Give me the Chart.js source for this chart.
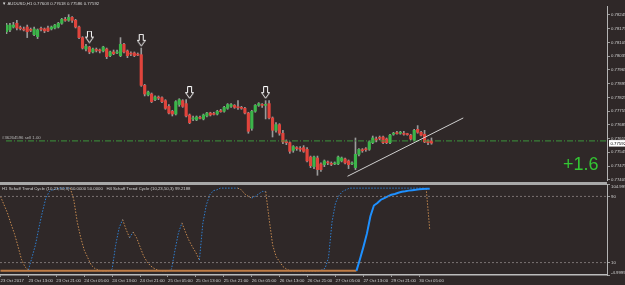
<!DOCTYPE html>
<html>
<head>
<meta charset="utf-8">
<script src="https://cdn.jsdelivr.net/npm/chart.js@4.4.1/dist/chart.umd.min.js"></script>
<style>
  html, body { margin: 0; padding: 0; background: #2f2828; }
  #wrap { position: relative; width: 625px; height: 285px; overflow: hidden; }
  canvas { position: absolute; left: 0; }
  #main { top: 0; }
  #osc { top: 181px; }
  .sep { position: absolute; left: 0; top: 182px; width: 607px; height: 3px; background: #a8a8a8; }
</style>
</head>
<body>
<div id="wrap">
  <canvas id="main" width="625" height="186"></canvas>
  <canvas id="osc" width="625" height="104"></canvas>
  <div class="sep"></div>
</div>
<script>
Chart.defaults.font.family = "'Liberation Sans', sans-serif";
Chart.defaults.color = '#d0d0d0';

const BG = '#2f2828';
const UP = '#3cb54a';
const DOWN = '#e0443c';
const X_MIN = -0.14, X_MAX = 173.8;
const SMALL = 4.3;

// H1 candles, 23 Oct 05:00 .. 30 Oct 08:00
const openP = [
  0.78159, 0.78168, 0.78183, 0.78202, 0.78178, 0.78173, 0.78183, 0.78168, 0.78144, 0.78134,
  0.78173, 0.78173, 0.78178, 0.78173, 0.78178, 0.78183, 0.78202, 0.78222, 0.78217, 0.78232,
  0.78217, 0.78183, 0.78129, 0.78071, 0.78081, 0.78056, 0.78066, 0.78066, 0.78061, 0.78071,
  0.78037, 0.78056, 0.78051, 0.78037, 0.78095, 0.78061, 0.78047, 0.78051, 0.78042, 0.78042,
  0.77886, 0.77837, 0.77842, 0.77813, 0.77823, 0.77823, 0.77808, 0.77779, 0.77754, 0.77740,
  0.77788, 0.77808, 0.77793, 0.77735, 0.77715, 0.77710, 0.77720, 0.77715, 0.77730, 0.77745,
  0.77740, 0.77740, 0.77754, 0.77754, 0.77769, 0.77779, 0.77784, 0.77774, 0.77774, 0.77769,
  0.77745, 0.77667, 0.77754, 0.77784, 0.77788, 0.77784, 0.77793, 0.77720, 0.77657, 0.77686,
  0.77642, 0.77598, 0.77594, 0.77555, 0.77569, 0.77564, 0.77569, 0.77560, 0.77521, 0.77472,
  0.77516, 0.77486, 0.77482, 0.77496, 0.77486, 0.77486, 0.77486, 0.77501, 0.77511, 0.77501,
  0.77486, 0.77467, 0.77535, 0.77555, 0.77560, 0.77560, 0.77594, 0.77613, 0.77618, 0.77623,
  0.77613, 0.77594, 0.77637, 0.77642, 0.77642, 0.77642, 0.77637, 0.77632, 0.77608, 0.77662,
  0.77647, 0.77637, 0.77603, 0.77603
];
const highP = [
  0.78202, 0.78202, 0.78207, 0.78217, 0.78188, 0.78183, 0.78193, 0.78178, 0.78183, 0.78173,
  0.78183, 0.78178, 0.78188, 0.78188, 0.78197, 0.78207, 0.78227, 0.78232, 0.78246, 0.78236,
  0.78222, 0.78188, 0.78134, 0.78095, 0.78085, 0.78076, 0.78076, 0.78071, 0.78085, 0.78076,
  0.78061, 0.78066, 0.78066, 0.78129, 0.78100, 0.78066, 0.78056, 0.78056, 0.78051, 0.78076,
  0.77891, 0.77857, 0.77847, 0.77832, 0.77832, 0.77827, 0.77813, 0.77788, 0.77759, 0.77808,
  0.77818, 0.77813, 0.77813, 0.77740, 0.77730, 0.77730, 0.77730, 0.77740, 0.77749, 0.77749,
  0.77749, 0.77759, 0.77764, 0.77779, 0.77793, 0.77793, 0.77788, 0.77808, 0.77779, 0.77774,
  0.77749, 0.77759, 0.77788, 0.77798, 0.77793, 0.77808, 0.77808, 0.77725, 0.77696, 0.77691,
  0.77657, 0.77608, 0.77598, 0.77579, 0.77574, 0.77574, 0.77579, 0.77569, 0.77526, 0.77526,
  0.77526, 0.77491, 0.77506, 0.77501, 0.77496, 0.77496, 0.77526, 0.77521, 0.77516, 0.77506,
  0.77496, 0.77618, 0.77564, 0.77564, 0.77569, 0.77603, 0.77628, 0.77623, 0.77628, 0.77628,
  0.77618, 0.77637, 0.77647, 0.77652, 0.77652, 0.77652, 0.77642, 0.77637, 0.77662, 0.77681,
  0.77652, 0.77657, 0.77608, 0.77618
];
const lowP = [
  0.78149, 0.78159, 0.78178, 0.78168, 0.78168, 0.78163, 0.78129, 0.78159, 0.78139, 0.78124,
  0.78163, 0.78154, 0.78159, 0.78168, 0.78173, 0.78178, 0.78197, 0.78212, 0.78212, 0.78207,
  0.78178, 0.78124, 0.78071, 0.78061, 0.78047, 0.78051, 0.78056, 0.78051, 0.78056, 0.78022,
  0.78032, 0.78042, 0.78047, 0.78032, 0.78051, 0.78027, 0.78037, 0.78032, 0.78037, 0.77881,
  0.77832, 0.77832, 0.77798, 0.77808, 0.77813, 0.77798, 0.77764, 0.77740, 0.77730, 0.77735,
  0.77779, 0.77774, 0.77725, 0.77691, 0.77706, 0.77706, 0.77715, 0.77710, 0.77725, 0.77730,
  0.77735, 0.77735, 0.77749, 0.77749, 0.77764, 0.77774, 0.77769, 0.77764, 0.77764, 0.77740,
  0.77642, 0.77657, 0.77749, 0.77779, 0.77774, 0.77715, 0.77715, 0.77623, 0.77647, 0.77632,
  0.77589, 0.77584, 0.77540, 0.77545, 0.77555, 0.77550, 0.77545, 0.77496, 0.77467, 0.77462,
  0.77428, 0.77448, 0.77472, 0.77482, 0.77477, 0.77482, 0.77482, 0.77496, 0.77486, 0.77462,
  0.77482, 0.77457, 0.77526, 0.77545, 0.77550, 0.77555, 0.77589, 0.77598, 0.77608, 0.77589,
  0.77589, 0.77589, 0.77632, 0.77637, 0.77637, 0.77632, 0.77632, 0.77608, 0.77603, 0.77642,
  0.77628, 0.77594, 0.77584, 0.77586
];
const closeP = [
  0.78193, 0.78193, 0.78193, 0.78178, 0.78175, 0.78168, 0.78159, 0.78166, 0.78173, 0.78168,
  0.78171, 0.78163, 0.78163, 0.78183, 0.78193, 0.78202, 0.78222, 0.78217, 0.78232, 0.78217,
  0.78183, 0.78129, 0.78076, 0.78085, 0.78056, 0.78071, 0.78064, 0.78061, 0.78081, 0.78032,
  0.78056, 0.78047, 0.78056, 0.78095, 0.78056, 0.78037, 0.78045, 0.78037, 0.78040, 0.77886,
  0.77842, 0.77852, 0.77803, 0.77827, 0.77821, 0.77803, 0.77769, 0.77745, 0.77740, 0.77803,
  0.77813, 0.77779, 0.77730, 0.77696, 0.77720, 0.77725, 0.77718, 0.77735, 0.77745, 0.77735,
  0.77738, 0.77754, 0.77752, 0.77774, 0.77788, 0.77788, 0.77774, 0.77772, 0.77769, 0.77745,
  0.77652, 0.77754, 0.77784, 0.77793, 0.77784, 0.77788, 0.77720, 0.77657, 0.77686, 0.77642,
  0.77598, 0.77594, 0.77550, 0.77574, 0.77564, 0.77560, 0.77550, 0.77501, 0.77477, 0.77521,
  0.77457, 0.77457, 0.77501, 0.77491, 0.77484, 0.77488, 0.77521, 0.77516, 0.77491, 0.77482,
  0.77491, 0.77535, 0.77560, 0.77553, 0.77558, 0.77598, 0.77618, 0.77608, 0.77616, 0.77594,
  0.77594, 0.77632, 0.77642, 0.77640, 0.77644, 0.77637, 0.77635, 0.77613, 0.77657, 0.77647,
  0.77632, 0.77598, 0.77594, 0.77592
];

const priceTicks = [0.78245, 0.78175, 0.78105, 0.78035, 0.77965, 0.77895, 0.77825,
                    0.77755, 0.77685, 0.77615, 0.77545, 0.77475, 0.77405];
const timeTickBars = [0, 8, 16, 24, 32, 40, 48, 56, 64, 72, 80, 88, 96, 104, 112, 120];
const timeTickLabels = ['23 Oct 2017', '23 Oct 13:00', '23 Oct 21:00', '24 Oct 05:00',
  '24 Oct 13:00', '24 Oct 21:00', '25 Oct 05:00', '25 Oct 13:00', '25 Oct 21:00',
  '26 Oct 05:00', '26 Oct 13:00', '26 Oct 21:00', '27 Oct 05:00', '27 Oct 13:00',
  '29 Oct 21:00', '30 Oct 05:00'];

const arrowBars = [24, 39, 53, 75];
const arrowPrices = [0.78132, 0.78115, 0.77849, 0.77849];
const trendBars = [98.7, 132.2];
const trendPrices = [0.77423, 0.77720];
const orderPrice = 0.77603;
const orderText = '#36264596 sell 1.00';
const profitText = '+1.6';

// Schaff Trend Cycle window
const h1Stc = [
  90, 80, 70, 57, 45, 30, 14, 5, 1, 16,
  31, 52, 71, 88, 96, 98, 99, 100, 100, 100,
  100, 86, 59, 40, 25, 16, 7, 3, 1, 0,
  0, 0, 2, 31, 52, 62, 50, 40, 47, 40,
  29, 18, 11, 6, 3, 1, 0, 0, 0, 2,
  25, 46, 58, 47, 37, 29, 22, 13, 58, 80,
  92, 97, 98, 100, 100, 100, 100, 100, 100, 98,
  93, 90, 88, 90, 93, 96, 96, 62, 31, 17,
  11, 5, 2, 0, 0, 0, 0, 0, 0, 0,
  0, 0, 1, 3, 16, 59, 82, 91, 96, 98,
  100, 100, 100, 100, 100, 100, 100, 100, 100, 100,
  100, 100, 100, 100, 100, 100, 100, 100, 100, 100,
  100, 100, 99, 50
];
const h4Stc = [
  0, 0, 0, 0, 0, 0, 0, 0, 0, 0,
  0, 0, 0, 0, 0, 0, 0, 0, 0, 0,
  0, 0, 0, 0, 0, 0, 0, 0, 0, 0,
  0, 0, 0, 0, 0, 0, 0, 0, 0, 0,
  0, 0, 0, 0, 0, 0, 0, 0, 0, 0,
  0, 0, 0, 0, 0, 0, 0, 0, 0, 0,
  0, 0, 0, 0, 0, 0, 0, 0, 0, 0,
  0, 0, 0, 0, 0, 0, 0, 0, 0, 0,
  0, 0, 0, 0, 0, 0, 0, 0, 0, 0,
  0, 0, 0, 0, 0, 0, 0, 0, 0, 0,
  0, 0, 0, 14, 29, 45, 66, 79, 82, 86,
  88, 90, 92, 93, 94.5, 95.7, 96.3, 97, 97.5, 98,
  98.6, 99, 99.2, 99.2188
];
const stcLevels = [90, 10];
const stcTicks = [104.9999, 90, 10, -4.9999];
const oscTitle = 'H1 Schaff Trend Cycle (10,23,50,3) 50.0000 50.0000   H4 Schaff Trend Cycle (10,23,50,3) 99.2188';

// down arrow marker
const arrowImg = document.createElement('canvas');
arrowImg.width = 9; arrowImg.height = 13;
(function () {
  const c = arrowImg.getContext('2d');
  c.beginPath();
  c.moveTo(2.5, 0.5); c.lineTo(6.5, 0.5); c.lineTo(6.5, 6.5); c.lineTo(8.5, 6.5);
  c.lineTo(4.5, 12.2); c.lineTo(0.5, 6.5); c.lineTo(2.5, 6.5); c.closePath();
  c.fillStyle = BG; c.fill();
  c.strokeStyle = '#ffffff'; c.lineWidth = 1; c.stroke();
})();

const bars = openP.map((_, i) => i);
const last = bars.length - 1;
const titleText = '\u25BC AUDUSD,H1 ' + [openP[last], highP[last], lowP[last], closeP[last]]
  .map(v => v.toFixed(5)).join(' ');
const bodyColors = bars.map(i => closeP[i] > openP[i] ? UP : (closeP[i] < openP[i] ? DOWN : '#c8c8c8'));

function stcSegment(up, down) {
  return ctx => {
    const a = ctx.p0.parsed.y, b = ctx.p1.parsed.y;
    if (b > a) return up;
    if (b < a) return down;
    return b >= 50 ? up : down;
  };
}

const mainText = {
  id: 'mainText',
  afterDraw(chart) {
    const { ctx } = chart;
    const y = chart.scales.y;
    ctx.save();
    ctx.font = SMALL + "px 'Liberation Sans', sans-serif";
    ctx.fillStyle = '#d6d6d6';
    ctx.textBaseline = 'top';
    ctx.fillText(titleText, 2, 1.5);
    ctx.fillStyle = '#b8b8b8';
    ctx.textBaseline = 'bottom';
    ctx.fillText(orderText, 2, y.getPixelForValue(orderPrice) - 0.5);

    ctx.font = "18px 'Liberation Sans', sans-serif";
    ctx.fillStyle = '#33c633';
    ctx.textBaseline = 'alphabetic';
    ctx.fillText(profitText, 563, 169.5);

    const py = y.getPixelForValue(closeP[last]);
    ctx.fillStyle = '#ffffff';
    ctx.fillRect(609, py - 3, 16, 6.5);
    ctx.fillStyle = '#000000';
    ctx.font = SMALL + "px 'Liberation Sans', sans-serif";
    ctx.textBaseline = 'middle';
    ctx.fillText(closeP[last].toFixed(5), 610.5, py + 0.3);
    ctx.restore();
  }
};

const oscText = {
  id: 'oscText',
  afterDraw(chart) {
    const { ctx } = chart;
    ctx.save();
    ctx.font = SMALL + "px 'Liberation Sans', sans-serif";
    ctx.fillStyle = '#cfcfcf';
    ctx.textBaseline = 'top';
    ctx.fillText(oscTitle, 2, 5.5);
    ctx.restore();
  }
};

new Chart(document.getElementById('main'), {
  type: 'bar',
  data: {
    datasets: [
      {
        data: bars.map(i => ({ x: i, y: [lowP[i], highP[i]] })),
        backgroundColor: '#9a9a9a', borderWidth: 0, barThickness: 1, grouped: false, order: 5
      },
      {
        data: bars.map(i => ({ x: i, y: [openP[i], closeP[i]] })),
        backgroundColor: bodyColors, borderWidth: 0, barThickness: 2.5, minBarLength: 1,
        grouped: false, order: 4
      },
      {
        type: 'line',
        data: [{ x: X_MIN, y: orderPrice }, { x: X_MAX, y: orderPrice }],
        borderColor: '#3c963c', borderWidth: 1, borderDash: [6, 2, 1, 2], pointRadius: 0, order: 3
      },
      {
        type: 'line',
        data: trendBars.map((b, i) => ({ x: b, y: trendPrices[i] })),
        borderColor: '#d0d0d0', borderWidth: 1, pointRadius: 0, order: 2
      },
      {
        type: 'scatter',
        data: arrowBars.map((b, i) => ({ x: b, y: arrowPrices[i] })),
        pointStyle: arrowImg, pointRadius: 5, order: 1
      }
    ]
  },
  options: {
    responsive: false,
    animation: false,
    events: [],
    layout: { padding: { left: 0, right: 0, top: 0, bottom: 4 } },
    plugins: { legend: { display: false }, tooltip: { enabled: false } },
    scales: {
      x: { type: 'linear', min: X_MIN, max: X_MAX, offset: false, display: false },
      y: {
        position: 'right',
        min: 0.77404, max: 0.78290,
        afterBuildTicks: s => { s.ticks = priceTicks.map(v => ({ value: v })); },
        ticks: { callback: v => v.toFixed(5), font: { size: SMALL }, color: '#d0d0d0', padding: 1 },
        grid: { drawOnChartArea: false, drawTicks: true, tickLength: 3, color: '#9a9a9a' },
        border: { color: '#b4b4b4', width: 1 },
        afterFit: s => { s.width = 18; s.paddingTop = 0; s.paddingBottom = 0; }
      }
    }
  },
  plugins: [mainText]
});

new Chart(document.getElementById('osc'), {
  type: 'line',
  data: {
    datasets: [
      ...stcLevels.map(v => ({
        data: [{ x: X_MIN, y: v }, { x: X_MAX, y: v }],
        borderColor: '#7a7272', borderWidth: 1, borderDash: [2, 2], pointRadius: 0
      })),
      {
        data: h4Stc.map((v, i) => ({ x: i, y: v })),
        borderColor: '#1e90ff', borderWidth: 2, pointRadius: 0,
        segment: { borderColor: stcSegment('#1e90ff', '#c07c45') }
      },
      {
        data: h1Stc.map((v, i) => ({ x: i, y: v })),
        borderColor: '#2f7fd0', borderWidth: 1, borderDash: [1.5, 1.5], pointRadius: 0,
        segment: { borderColor: stcSegment('#2f7fd0', '#c68a50') }
      }
    ]
  },
  options: {
    responsive: false,
    animation: false,
    events: [],
    layout: { padding: { left: 0, right: 0, top: 3, bottom: 0 } },
    plugins: { legend: { display: false }, tooltip: { enabled: false } },
    scales: {
      x: {
        type: 'linear', min: X_MIN, max: X_MAX, offset: false,
        afterBuildTicks: s => { s.ticks = timeTickBars.map(v => ({ value: v })); },
        ticks: {
          autoSkip: false, maxRotation: 0, align: 'start', padding: 1,
          font: { size: SMALL }, color: '#d0d0d0',
          callback: v => timeTickLabels[timeTickBars.indexOf(v)]
        },
        grid: { drawOnChartArea: false, tickLength: 2, color: '#9a9a9a', offset: false },
        border: { color: '#bcbcbc', width: 1.5 },
        afterFit: s => { s.height = 10; s.paddingLeft = 0; s.paddingRight = 0; }
      },
      y: {
        position: 'right',
        min: stcTicks[3], max: stcTicks[0],
        afterBuildTicks: s => { s.ticks = stcTicks.map(v => ({ value: v })); },
        ticks: {
          font: { size: SMALL }, color: '#d0d0d0', padding: 1,
          callback: v => v === stcTicks[0] ? ['', v.toFixed(4)]
            : (v === stcTicks[3] ? [v.toFixed(4), ''] : String(v))
        },
        grid: { drawOnChartArea: false, drawTicks: true, tickLength: 3, color: '#9a9a9a' },
        border: { color: '#b4b4b4', width: 1 },
        afterFit: s => { s.width = 18; s.paddingTop = 0; s.paddingBottom = 0; }
      }
    }
  },
  plugins: [oscText]
});
</script>
</body>
</html>
